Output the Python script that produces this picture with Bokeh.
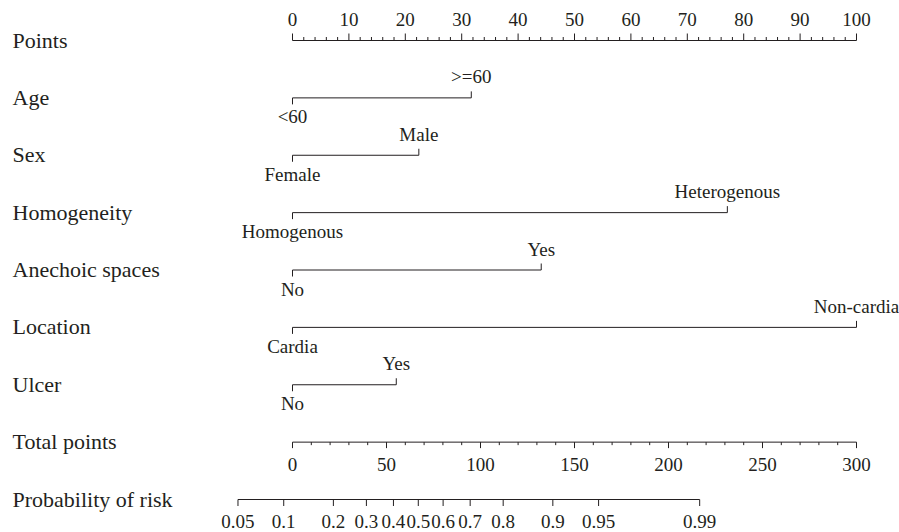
import numpy as np
from bokeh.plotting import figure
from bokeh.models import Range1d
from bokeh.core.properties import value
from bokeh.embed import file_html
from bokeh.resources import INLINE

# ---------------- data ----------------
variables = ["Age", "Sex", "Homogeneity", "Anechoic spaces", "Location", "Ulcer"]
low_levels = ["<60", "Female", "Homogenous", "No", "Cardia", "No"]
high_levels = [">=60", "Male", "Heterogenous", "Yes", "Non-cardia", "Yes"]
high_points = [31.7, 22.4, 77.1, 44.1, 100.0, 18.4]

point_labels = [0, 10, 20, 30, 40, 50, 60, 70, 80, 90, 100]
total_labels = [0, 50, 100, 150, 200, 250, 300]
prob_labels = [0.05, 0.1, 0.2, 0.3, 0.4, 0.5, 0.6, 0.7, 0.8, 0.9, 0.95, 0.99]
prob_text = ["0.05", "0.1", "0.2", "0.3", "0.4", "0.5", "0.6", "0.7", "0.8", "0.9", "0.95", "0.99"]

# logistic model: logit(p) = b0 + b1 * total_points
b0 = -2.054
b1 = 0.0307
total_max = 300.0

# ---------------- layout ----------------
W, H = 899, 532
PX_PER_POINT = 5.64
X0_PX = 292.0
ROW0_PX = 40.0
ROW_PX = 57.375
INK = "#231f20"
FONT = "Liberation Serif"
UP = 1.5  # small global text lift in px


def dx(px):
    return px / PX_PER_POINT


def dy(px):
    return px / ROW_PX


def tp_to_x(tp):
    return np.asarray(tp, dtype=float) * 100.0 / total_max


def prob_to_x(pr):
    pr = np.asarray(pr, dtype=float)
    return tp_to_x((np.log(pr / (1 - pr)) - b0) / b1)


x_start = -X0_PX / PX_PER_POINT
x_end = (W - X0_PX) / PX_PER_POINT
p = figure(width=W, height=H, output_backend="svg", toolbar_location=None,
           x_range=Range1d(x_start, x_end),
           y_range=Range1d((H - ROW0_PX) / ROW_PX, -ROW0_PX / ROW_PX),
           min_border=0, x_axis_location=None, y_axis_location=None)
p.grid.visible = False
p.outline_line_color = None
p.background_fill_color = "white"

seg = dict(line_color=INK, line_width=1)
txt_row = dict(text_font=value(FONT), text_font_size="22px", text_color=INK,
               text_baseline="middle")
txt_word = dict(text_font=value(FONT), text_font_size="19px", text_color=INK,
                text_baseline="middle", text_align="center")
txt_num = dict(text_font=value(FONT), text_font_size="19px", text_color=INK,
               text_baseline="middle", text_align="center")

# row labels
row_names = ["Points"] + variables + ["Total points", "Probability of risk"]
rows = list(range(len(row_names)))
p.text(x=[x_start + dx(12)] * len(rows), y=[r + dy(1 - UP) for r in rows], text=row_names,
       text_align="left", **txt_row)

# Points axis (row 0), ticks upward
r = 0
p.segment(x0=[0], y0=[r], x1=[100], y1=[r], **seg)
major = np.array(point_labels, dtype=float)
minor = np.arange(0, 101, 2, dtype=float)
minor = minor[~np.isin(minor, major)]
p.segment(x0=major, y0=[r] * len(major), x1=major, y1=[r - dy(7)] * len(major), **seg)
p.segment(x0=minor, y0=[r] * len(minor), x1=minor, y1=[r - dy(3.5)] * len(minor), **seg)
p.text(x=major, y=[r - dy(21.5)] * len(major), text=[str(v) for v in point_labels], **txt_num)

# variable rows
for i, (lo, hi, hp) in enumerate(zip(low_levels, high_levels, high_points)):
    r = i + 1
    p.segment(x0=[0], y0=[r], x1=[hp], y1=[r], **seg)
    p.segment(x0=[0], y0=[r], x1=[0], y1=[r + dy(6.5)], **seg)
    p.segment(x0=[hp], y0=[r], x1=[hp], y1=[r - dy(6.5)], **seg)
    p.text(x=[hp], y=[r - dy(19.5 + UP)], text=[hi], **txt_word)
    p.text(x=[0], y=[r + dy(20.5 - UP)], text=[lo], **txt_word)

# Total points (row 7), ticks downward
r = 7
p.segment(x0=[0], y0=[r], x1=[100], y1=[r], **seg)
tmaj = tp_to_x(total_labels)
tmin_v = np.arange(0, 301, 10, dtype=float)
tmin_v = tmin_v[~np.isin(tmin_v, np.array(total_labels, dtype=float))]
tmin = tp_to_x(tmin_v)
p.segment(x0=tmaj, y0=[r] * len(tmaj), x1=tmaj, y1=[r + dy(6)] * len(tmaj), **seg)
p.segment(x0=tmin, y0=[r] * len(tmin), x1=tmin, y1=[r + dy(3)] * len(tmin), **seg)
p.text(x=tmaj, y=[r + dy(24 - UP)] * len(tmaj), text=[str(v) for v in total_labels], **txt_num)

# Probability (row 8), ticks downward
r = 8
px = prob_to_x(prob_labels)
p.segment(x0=[px[0]], y0=[r], x1=[px[-1]], y1=[r], **seg)
p.segment(x0=px, y0=[r] * len(px), x1=px, y1=[r + dy(6.5)] * len(px), **seg)
p.text(x=px, y=[r + dy(23.5 - UP)] * len(px), text=prob_text, **txt_num)

open("out.html", "w").write(file_html(p, INLINE))
